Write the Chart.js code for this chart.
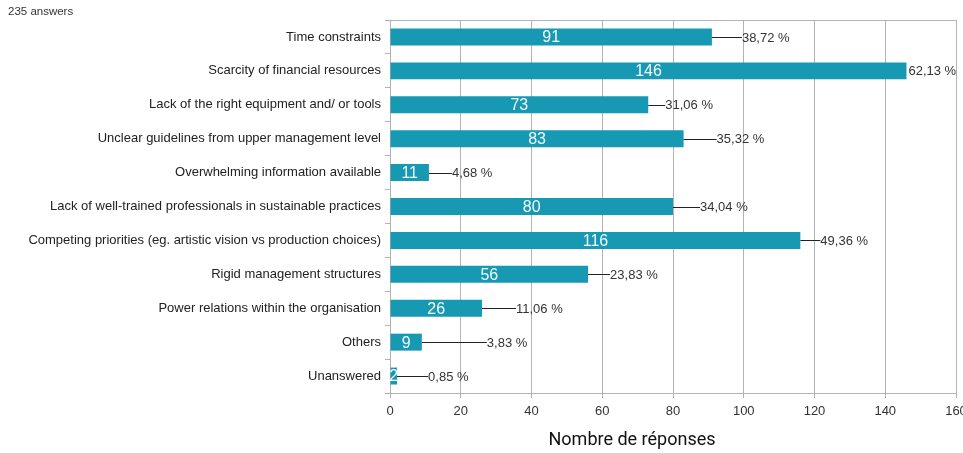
<!DOCTYPE html>
<html>
<head>
<meta charset="utf-8">
<script src="https://cdn.jsdelivr.net/npm/chart.js@4/dist/chart.umd.min.js"></script>
<style>
  html, body { margin: 0; padding: 0; background: #ffffff; }
  #wrap { width: 963px; height: 453px; position: relative; }
</style>
</head>
<body>
<div id="wrap"><canvas id="chart" width="963" height="453"></canvas></div>
<script>
// Survey: obstacles to sustainable practices
const answerCountText = '235 answers';
const categories = [
  'Time constraints',
  'Scarcity of financial resources',
  'Lack of the right equipment and/ or tools',
  'Unclear guidelines from upper management level',
  'Overwhelming information available',
  'Lack of well-trained professionals in sustainable practices',
  'Competing priorities (eg. artistic vision vs production choices)',
  'Rigid management structures',
  'Power relations within the organisation',
  'Others',
  'Unanswered'
];
const responses = [91, 146, 73, 83, 11, 80, 116, 56, 26, 9, 2];
const percentLabels = ['38,72 %', '62,13 %', '31,06 %', '35,32 %', '4,68 %', '34,04 %',
                       '49,36 %', '23,83 %', '11,06 %', '3,83 %', '0,85 %'];
const xTicks = [0, 20, 40, 60, 80, 100, 120, 140, 160];
const xTitle = 'Nombre de réponses';

// Length (px) of the leader line between each bar end and its percentage label
const leaderLengths = [30, 2, 17, 33, 23, 27, 20, 22, 34, 65, 31];

const BAR = '#1899b3';
const GRID = '#b3b3b3';
const TEXT = '#333333';
const SANS = '"Liberation Sans", Arial, sans-serif';

const labelPlugin = {
  id: 'barLabels',
  afterDatasetsDraw(chart) {
    const ctx = chart.ctx;
    const meta = chart.getDatasetMeta(0);
    ctx.save();
    meta.data.forEach((bar, i) => {
      const start = bar.base, end = bar.x, y = bar.y;
      // count inside the bar
      ctx.fillStyle = '#f4fbfd';
      ctx.font = '16px ' + SANS;
      ctx.textAlign = 'center';
      ctx.textBaseline = 'middle';
      ctx.fillText(String(responses[i]), (start + end) / 2, y + 1);
      // leader line + percentage
      const gap = leaderLengths[i];
      if (gap > 4) {
        ctx.strokeStyle = '#222222';
        ctx.lineWidth = 1;
        ctx.beginPath();
        ctx.moveTo(end, Math.round(y) + 0.5);
        ctx.lineTo(end + gap, Math.round(y) + 0.5);
        ctx.stroke();
      }
      ctx.fillStyle = TEXT;
      ctx.font = '13px ' + SANS;
      ctx.textAlign = 'left';
      ctx.fillText(percentLabels[i], end + gap, y + 1);
    });
    ctx.restore();
  },
  afterDraw(chart) {
    const ctx = chart.ctx;
    ctx.save();
    ctx.fillStyle = TEXT;
    ctx.font = '11.5px ' + SANS;
    ctx.textAlign = 'left';
    ctx.textBaseline = 'middle';
    ctx.fillText(answerCountText, 8, 12);
    // axis title under the value axis
    ctx.fillStyle = '#111111';
    ctx.font = '18px Roboto, "Noto Sans", sans-serif';
    ctx.textAlign = 'center';
    ctx.fillText(xTitle, 632, 440);
    ctx.restore();
  }
};

new Chart(document.getElementById('chart'), {
  type: 'bar',
  data: {
    labels: categories,
    datasets: [{
      data: responses,
      backgroundColor: BAR,
      borderWidth: 0,
      categoryPercentage: 1,
      barPercentage: 0.5
    }]
  },
  options: {
    indexAxis: 'y',
    responsive: false,
    animation: false,
    devicePixelRatio: 1,
    layout: { padding: { top: 20, right: 7, bottom: 0, left: 0 } },
    plugins: {
      legend: { display: false },
      tooltip: { enabled: false },
      title: { display: false }
    },
    scales: {
      x: {
        type: 'linear',
        min: 0,
        max: 160,
        afterBuildTicks(scale) { scale.ticks = xTicks.map(v => ({ value: v })); },
        afterFit(scale) { scale.height = 60; scale.paddingLeft = 0; scale.paddingRight = 0; },
        grid: { color: GRID, tickColor: GRID, tickLength: 5, lineWidth: 1 },
        border: { color: GRID },
        ticks: { color: TEXT, font: { family: SANS, size: 13 }, padding: 6 }
      },
      y: {
        afterFit(scale) { scale.width = 390; scale.paddingTop = 0; scale.paddingBottom = 0; },
        grid: {
          offset: true,
          color: (c) => (c.index === 0 ? GRID : 'rgba(0,0,0,0)'),
          tickColor: GRID,
          tickLength: 5
        },
        border: { color: GRID },
        ticks: { color: '#222222', font: { family: SANS, size: 13 }, padding: 4, autoSkip: false }
      }
    }
  },
  plugins: [labelPlugin]
});
</script>
</body>
</html>
